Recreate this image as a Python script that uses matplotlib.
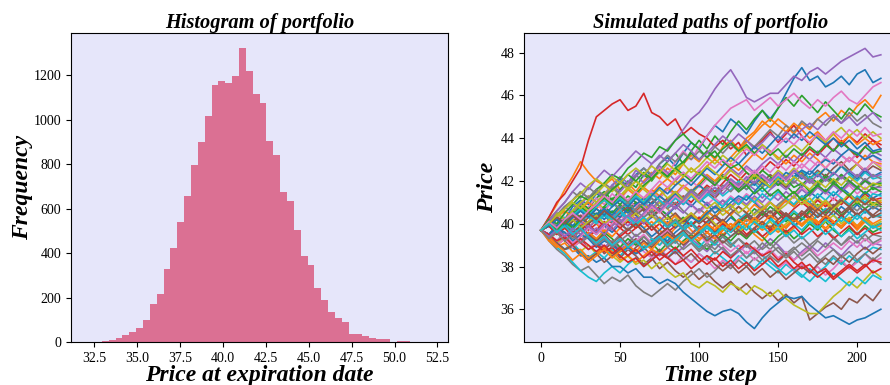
import numpy as np
import matplotlib
matplotlib.use('Agg')
import matplotlib.pyplot as plt

plt.rcParams['font.family'] = ['Liberation Serif', 'DejaVu Serif']

# histogram of the final prices (50 bins)
price_bins = np.linspace(32.14, 52.12, 51)
price_counts = [1, 2, 4, 9, 20, 33, 46, 64, 99, 169,
                217, 328, 421, 538, 655, 794, 899, 1017, 1157, 1174,
                1167, 1197, 1321, 1218, 1115, 1076, 906, 843, 676, 635,
                502, 385, 345, 244, 190, 133, 106, 91, 37, 37,
                25, 18, 13, 13, 2, 6, 5, 1, 0, 1]

# simulated paths, one value every 5 time steps
time_steps = np.arange(0, 220, 5)
paths = [
    [39.7, 40.1, 40.4, 40.2, 40.8, 41.1, 40.9, 41.4, 41.2, 41.8, 42.1, 41.7, 42.3, 42.6, 42.2, 42.8, 43.1, 42.7, 43.3, 43.8, 43.5, 44.1, 44.6, 44.3, 44.9, 44.6, 44.2, 44.8, 45.3, 44.9, 45.4, 46.1, 46.8, 47.3, 46.7, 46.9, 46.4, 46.6, 46.9, 46.5, 47.0, 47.2, 46.6, 46.8],
    [39.7, 40.3, 40.9, 41.6, 42.2, 42.9, 42.4, 42.0, 41.8, 42.1, 41.6, 41.9, 41.5, 42.0, 42.4, 42.1, 42.6, 42.3, 42.8, 43.2, 42.9, 43.4, 43.0, 43.6, 43.9, 43.5, 44.0, 44.3, 44.8, 44.5, 44.9, 44.6, 44.2, 44.7, 44.4, 44.9, 45.2, 44.8, 45.3, 45.0, 45.5, 45.8, 45.4, 46.0],
    [39.7, 39.9, 40.4, 40.1, 40.6, 41.0, 40.7, 41.2, 41.5, 41.1, 41.6, 42.0, 41.7, 42.3, 42.0, 42.5, 42.9, 43.3, 42.8, 43.4, 43.9, 43.5, 44.1, 43.7, 44.3, 44.8, 44.4, 44.9, 45.3, 44.8, 45.4, 45.9, 45.5, 46.0, 45.6, 45.2, 45.7, 45.3, 44.9, 45.4, 45.1, 45.6, 45.2, 45.0],
    [39.7, 40.3, 41.0, 41.4, 42.0, 42.6, 43.9, 45.0, 45.3, 45.6, 45.8, 45.3, 45.5, 46.1, 45.2, 45.0, 44.6, 44.9, 44.2, 44.5, 44.2, 44.0, 43.6, 43.9, 43.5, 43.8, 43.2, 43.6, 43.9, 44.3, 43.8, 44.2, 44.6, 44.1, 43.7, 44.2, 43.8, 43.4, 43.9, 43.5, 43.1, 43.6, 43.9, 43.5],
    [39.7, 40.2, 39.9, 40.5, 40.9, 40.6, 41.1, 41.5, 41.2, 41.8, 42.2, 41.9, 42.5, 42.2, 42.8, 43.1, 43.5, 43.9, 44.4, 44.9, 45.2, 45.7, 46.3, 46.8, 47.2, 46.6, 45.9, 45.7, 45.9, 46.1, 46.1, 46.5, 46.9, 46.7, 47.1, 47.3, 47.0, 47.3, 47.6, 47.8, 48.0, 48.2, 47.8, 47.9],
    [39.7, 39.4, 39.7, 39.2, 38.9, 39.3, 38.8, 39.1, 38.6, 38.9, 38.4, 38.8, 38.5, 38.1, 38.4, 37.9, 38.2, 37.8, 37.5, 37.8, 37.4, 37.7, 37.3, 37.0, 37.3, 36.9, 37.2, 36.8, 36.5, 36.8, 36.4, 36.7, 36.3, 36.6, 35.5, 35.8, 36.1, 36.3, 36.0, 36.5, 36.3, 36.7, 36.4, 36.9],
    [39.7, 40.0, 40.4, 40.1, 40.6, 40.3, 40.8, 41.2, 40.9, 41.4, 41.1, 41.6, 42.0, 41.7, 42.2, 42.6, 42.3, 42.9, 43.4, 43.0, 43.6, 44.1, 44.6, 45.0, 45.4, 45.6, 45.8, 45.3, 45.6, 45.9, 45.5, 45.8, 46.1, 45.7, 45.4, 45.8, 45.5, 45.9, 46.2, 45.8, 45.6, 46.0, 46.4, 46.6],
    [39.7, 39.2, 38.8, 38.5, 38.1, 37.8, 38.0, 37.6, 37.2, 37.5, 37.3, 37.6, 37.1, 36.8, 36.6, 36.9, 37.2, 36.9, 37.3, 37.6, 37.9, 37.5, 37.8, 38.2, 37.9, 38.3, 38.0, 38.4, 38.1, 38.5, 38.2, 38.6, 38.9, 38.5, 38.8, 38.4, 38.1, 38.5, 38.2, 37.9, 38.3, 38.0, 38.4, 38.1],
    [39.7, 39.5, 39.1, 39.4, 39.0, 38.7, 39.0, 38.6, 38.9, 38.5, 38.2, 38.5, 38.1, 38.3, 37.9, 38.2, 37.8, 37.5, 37.7, 37.2, 37.0, 37.3, 37.1, 36.8, 37.2, 37.0, 36.7, 37.1, 36.9, 36.6, 36.9, 36.5, 36.2, 36.0, 35.8, 35.8, 36.2, 36.6, 36.9, 37.3, 37.0, 37.4, 37.8, 37.5],
    [39.7, 39.3, 38.9, 38.6, 38.2, 37.8, 37.5, 37.3, 37.7, 38.0, 37.7, 38.1, 38.4, 38.0, 38.3, 38.7, 38.4, 38.8, 38.5, 38.2, 38.6, 38.3, 38.7, 38.4, 38.1, 38.5, 38.2, 37.9, 38.3, 38.0, 37.7, 38.1, 37.8, 37.5, 37.9, 37.6, 37.3, 37.7, 37.4, 37.1, 37.5, 37.2, 37.6, 37.4],
    [39.7, 39.4, 39.1, 38.8, 38.9, 38.5, 38.5, 38.2, 38.4, 38.0, 38.0, 37.7, 37.9, 37.5, 37.5, 37.2, 37.4, 37.2, 36.8, 36.5, 36.2, 35.9, 35.7, 35.9, 36.0, 35.8, 35.4, 35.1, 35.6, 36.0, 36.3, 36.6, 36.5, 36.6, 36.2, 35.9, 35.6, 35.7, 35.5, 35.3, 35.5, 35.6, 35.8, 36.0],
    [39.7, 39.9, 39.5, 39.8, 40.2, 39.9, 40.3, 40.0, 39.6, 39.9, 40.3, 40.6, 40.2, 39.8, 40.1, 39.7, 39.4, 39.8, 40.1, 39.7, 39.3, 39.6, 39.9, 39.5, 39.8, 40.2, 39.9, 39.5, 39.2, 39.6, 39.9, 39.5, 39.8, 40.2, 40.5, 40.1, 39.7, 40.0, 40.4, 40.1, 39.7, 40.1, 39.8, 40.0],
    [39.7, 40.1, 40.5, 40.2, 40.6, 41.0, 40.7, 40.4, 40.8, 41.2, 40.9, 41.3, 41.0, 40.6, 40.9, 41.3, 41.7, 41.4, 41.0, 41.4, 41.8, 42.2, 41.9, 42.3, 42.0, 41.6, 42.0, 42.4, 42.1, 41.7, 42.1, 41.8, 41.4, 41.8, 42.2, 41.9, 42.3, 42.0, 41.6, 42.0, 41.7, 42.1, 41.6, 41.8],
    [39.7, 39.5, 39.9, 40.2, 39.8, 40.1, 39.7, 40.0, 40.4, 40.1, 40.5, 40.2, 40.6, 40.9, 40.5, 40.8, 41.2, 40.9, 41.3, 41.0, 41.4, 41.8, 41.5, 41.9, 42.3, 42.0, 42.4, 42.1, 42.5, 42.9, 42.6, 43.0, 42.7, 43.1, 43.5, 43.2, 43.6, 44.0, 43.7, 44.1, 43.8, 44.2, 43.9, 43.7],
    [39.7, 39.4, 39.0, 39.3, 38.9, 39.2, 39.6, 39.3, 38.9, 39.2, 38.8, 39.1, 39.5, 39.2, 38.8, 38.5, 38.9, 38.6, 38.9, 39.3, 39.0, 38.7, 39.1, 38.8, 38.4, 38.7, 39.0, 38.6, 38.9, 39.3, 39.0, 38.6, 38.3, 38.7, 39.0, 38.7, 39.1, 38.8, 38.5, 38.9, 39.2, 38.8, 39.1, 39.0],
    [39.7, 40.0, 39.7, 40.1, 40.4, 40.0, 40.3, 40.7, 40.4, 40.0, 40.3, 40.7, 41.0, 40.6, 41.0, 41.3, 41.0, 40.7, 41.1, 41.4, 41.1, 41.5, 41.2, 41.6, 41.9, 41.5, 41.8, 42.2, 41.9, 42.3, 42.0, 41.7, 42.1, 42.4, 42.1, 42.5, 42.2, 42.6, 42.9, 42.5, 42.8, 42.4, 42.7, 42.5],
    [39.7, 39.9, 39.6, 39.2, 39.5, 39.1, 39.4, 39.0, 39.3, 38.9, 39.2, 38.8, 39.1, 38.7, 38.4, 38.8, 38.5, 38.1, 38.5, 38.2, 38.6, 38.3, 37.9, 38.3, 38.0, 38.4, 38.7, 38.3, 38.6, 38.2, 37.9, 38.2, 37.8, 38.1, 37.7, 38.0, 37.6, 37.9, 38.3, 37.9, 38.2, 38.6, 38.2, 38.4],
    [39.7, 40.2, 40.6, 41.0, 41.5, 41.2, 41.7, 41.4, 41.9, 41.6, 42.0, 41.7, 42.2, 42.6, 42.3, 42.8, 43.2, 42.9, 43.3, 43.0, 43.4, 43.1, 43.6, 43.3, 43.7, 43.4, 43.9, 43.6, 44.0, 44.4, 44.1, 44.6, 44.3, 44.8, 44.5, 44.9, 44.6, 45.0, 44.7, 45.2, 44.8, 45.1, 44.7, 44.5],
    [39.7, 40.1, 39.8, 40.2, 40.5, 40.9, 40.6, 41.0, 40.7, 40.3, 40.6, 40.2, 40.5, 40.9, 40.6, 41.0, 40.7, 40.3, 40.0, 40.4, 40.1, 40.5, 40.8, 40.4, 40.7, 41.1, 40.8, 41.2, 40.9, 40.5, 40.8, 41.2, 41.5, 41.1, 40.8, 41.2, 40.9, 40.6, 41.0, 41.3, 40.9, 41.2, 40.8, 41.0],
    [39.7, 39.5, 39.9, 40.3, 39.9, 40.2, 40.6, 40.3, 40.7, 41.0, 40.6, 40.9, 40.5, 40.8, 41.2, 40.8, 41.1, 41.5, 41.1, 41.4, 41.0, 41.3, 41.7, 41.3, 41.6, 42.0, 41.6, 41.9, 41.5, 41.8, 42.2, 41.8, 42.1, 42.5, 42.1, 42.4, 42.0, 42.3, 42.7, 42.3, 42.0, 42.4, 42.1, 42.2],
    [39.7, 39.4, 39.8, 39.5, 39.1, 39.4, 39.8, 39.5, 39.9, 39.6, 40.0, 39.7, 40.1, 39.8, 39.4, 39.7, 40.1, 39.8, 40.2, 39.9, 40.3, 40.0, 39.6, 39.9, 40.3, 40.0, 40.4, 40.1, 40.5, 40.2, 40.6, 40.3, 39.9, 40.2, 40.6, 40.3, 40.7, 40.4, 40.8, 40.5, 40.9, 40.5, 40.8, 40.6],
    [39.7, 40.0, 40.4, 40.1, 40.5, 40.2, 39.8, 40.2, 40.6, 40.3, 40.7, 41.1, 40.8, 41.2, 41.6, 41.3, 41.7, 41.4, 41.8, 41.5, 41.9, 42.3, 42.0, 42.4, 42.8, 42.5, 42.9, 43.3, 43.0, 43.4, 43.1, 42.8, 43.2, 42.9, 43.3, 43.0, 42.6, 43.0, 42.7, 43.1, 42.8, 43.2, 42.9, 42.8],
    [39.7, 39.3, 39.6, 39.2, 39.5, 39.9, 39.5, 39.2, 39.6, 39.3, 38.9, 39.3, 39.0, 39.4, 39.1, 38.7, 39.1, 38.8, 39.2, 39.5, 39.1, 38.8, 39.2, 39.5, 39.2, 39.6, 39.3, 39.7, 39.4, 39.0, 39.4, 39.7, 39.3, 39.6, 40.0, 39.7, 40.1, 39.7, 39.4, 39.8, 39.5, 39.9, 39.6, 39.8],
    [39.7, 39.9, 39.5, 39.8, 39.4, 39.7, 40.0, 39.6, 39.9, 40.2, 39.8, 39.5, 39.8, 40.2, 39.9, 39.5, 39.8, 40.1, 39.7, 40.0, 39.6, 39.9, 40.3, 40.0, 39.7, 40.1, 40.4, 40.1, 40.5, 40.2, 40.6, 40.3, 40.7, 41.0, 40.7, 41.1, 40.8, 41.2, 40.9, 41.3, 41.0, 41.4, 41.1, 41.2],
    [39.7, 40.1, 40.4, 40.8, 40.5, 40.9, 41.3, 41.0, 41.4, 41.8, 41.5, 41.9, 42.3, 41.9, 42.3, 42.7, 42.4, 42.0, 42.4, 42.1, 42.5, 42.2, 41.8, 42.2, 42.6, 42.3, 42.7, 42.4, 42.8, 43.1, 42.8, 43.2, 42.9, 43.3, 43.0, 43.4, 43.1, 43.5, 43.2, 42.9, 43.3, 43.0, 43.4, 43.2],
    [39.7, 39.4, 39.7, 40.0, 39.6, 39.9, 39.5, 39.2, 39.5, 39.1, 39.4, 39.0, 39.3, 38.9, 39.2, 39.5, 39.1, 39.4, 39.0, 39.3, 39.6, 39.3, 39.7, 39.4, 39.8, 39.5, 39.9, 39.6, 40.0, 39.7, 40.1, 39.8, 40.2, 39.9, 40.3, 40.0, 40.4, 40.1, 39.8, 40.2, 40.5, 40.1, 40.4, 40.3],
    [39.7, 40.0, 39.6, 39.9, 40.3, 40.0, 40.4, 40.1, 39.7, 40.0, 40.4, 40.1, 40.5, 40.8, 40.4, 40.7, 41.1, 40.8, 41.2, 40.9, 40.5, 40.9, 41.2, 40.9, 41.3, 41.0, 41.4, 41.1, 40.7, 41.1, 41.4, 41.0, 41.3, 41.7, 41.4, 41.8, 41.5, 41.1, 41.5, 41.8, 41.4, 41.7, 41.4, 41.6],
    [39.7, 39.5, 39.2, 39.6, 39.3, 39.7, 39.4, 39.0, 39.4, 39.1, 39.5, 39.8, 39.4, 39.7, 39.3, 39.0, 39.4, 39.1, 39.5, 39.2, 38.8, 39.1, 38.8, 39.2, 38.9, 39.3, 39.0, 38.7, 39.1, 38.8, 39.2, 39.5, 39.1, 39.4, 39.0, 39.3, 39.7, 39.4, 39.0, 39.3, 39.6, 39.2, 39.5, 39.4],
    [39.7, 40.0, 40.3, 40.0, 40.4, 40.8, 40.5, 40.9, 41.2, 40.9, 41.3, 41.7, 41.4, 41.1, 41.5, 41.2, 41.6, 42.0, 41.7, 41.4, 41.8, 41.5, 41.9, 42.2, 41.9, 41.5, 41.9, 42.2, 41.8, 42.1, 42.5, 42.2, 42.6, 42.3, 41.9, 42.3, 42.6, 42.3, 42.7, 42.4, 42.8, 42.5, 42.9, 42.6],
    [39.7, 39.4, 39.1, 38.8, 39.1, 38.7, 38.4, 38.7, 38.4, 38.8, 38.5, 38.9, 39.2, 38.9, 39.3, 39.0, 39.4, 39.1, 39.5, 39.2, 38.9, 39.3, 39.0, 39.4, 39.1, 38.8, 38.4, 38.8, 38.5, 38.2, 37.9, 37.6, 37.9, 37.6, 37.3, 37.7, 38.0, 38.4, 38.1, 38.5, 38.2, 38.6, 38.9, 38.8],
    [39.7, 40.0, 40.3, 39.9, 40.2, 39.8, 40.1, 40.5, 40.2, 40.6, 40.3, 40.7, 40.4, 40.0, 40.3, 40.7, 40.4, 40.8, 41.1, 40.8, 41.2, 40.9, 40.5, 40.8, 41.2, 40.9, 41.3, 41.0, 40.6, 41.0, 40.7, 41.1, 40.8, 41.2, 41.5, 41.2, 41.6, 41.3, 41.7, 41.4, 41.1, 41.5, 41.2, 41.4],
    [39.7, 39.9, 40.3, 40.6, 40.3, 40.7, 41.0, 40.7, 41.1, 40.8, 41.2, 41.6, 41.3, 41.7, 41.4, 41.8, 42.1, 41.8, 42.2, 42.6, 42.3, 42.7, 43.0, 42.7, 43.1, 43.5, 43.8, 44.2, 44.6, 44.9, 44.6, 44.3, 44.7, 44.4, 44.0, 44.3, 43.9, 44.2, 43.8, 44.1, 43.7, 44.0, 43.7, 43.9],
    [39.7, 40.1, 39.8, 40.2, 40.6, 40.3, 40.0, 40.4, 40.8, 40.5, 40.9, 40.6, 41.0, 40.7, 40.3, 40.7, 40.4, 40.0, 40.3, 39.9, 40.2, 40.6, 40.3, 40.7, 40.4, 40.0, 40.3, 40.7, 40.4, 40.8, 40.5, 40.1, 40.5, 40.2, 40.6, 40.9, 40.5, 40.8, 40.4, 40.7, 41.0, 40.7, 41.0, 40.8],
    [39.7, 39.3, 39.6, 39.9, 39.5, 39.8, 39.4, 39.7, 40.1, 39.8, 39.4, 39.7, 40.0, 39.6, 39.9, 39.5, 39.8, 40.1, 39.8, 39.5, 39.9, 39.6, 39.3, 39.7, 40.0, 39.7, 39.4, 39.8, 40.1, 39.7, 40.0, 40.4, 40.1, 40.5, 40.2, 39.9, 40.3, 40.0, 40.4, 40.1, 39.8, 40.2, 39.9, 40.0],
    [39.7, 39.5, 39.8, 39.4, 39.7, 40.1, 39.8, 40.2, 39.9, 40.3, 40.6, 40.3, 40.7, 41.0, 40.7, 41.1, 40.8, 41.2, 40.9, 41.3, 41.0, 41.4, 41.7, 41.4, 41.8, 41.5, 41.9, 41.6, 41.2, 41.6, 41.9, 41.6, 42.0, 41.7, 42.1, 41.8, 42.2, 41.9, 42.3, 42.0, 41.7, 42.1, 41.8, 42.0],
    [39.7, 39.9, 39.6, 39.3, 39.6, 39.2, 39.5, 39.1, 38.8, 39.1, 38.7, 39.0, 38.6, 38.9, 38.5, 38.8, 38.4, 38.7, 38.3, 38.6, 38.2, 38.5, 38.1, 37.8, 38.1, 37.7, 38.0, 37.6, 37.9, 37.5, 37.8, 37.4, 37.7, 38.0, 37.7, 38.1, 38.4, 38.1, 38.5, 38.2, 38.6, 38.9, 38.6, 38.9],
    [39.7, 40.0, 40.4, 40.1, 40.5, 40.2, 40.6, 40.9, 40.6, 41.0, 40.7, 41.1, 40.8, 41.2, 41.5, 41.2, 41.6, 41.3, 41.7, 42.0, 41.7, 42.1, 41.8, 42.2, 42.5, 42.2, 42.6, 42.3, 42.7, 42.4, 42.8, 42.5, 42.9, 42.6, 43.0, 42.7, 43.1, 42.8, 43.2, 42.9, 43.3, 43.0, 43.2, 42.9],
    [39.7, 39.4, 39.8, 40.1, 39.8, 40.2, 40.5, 40.2, 40.6, 40.3, 40.0, 40.4, 40.7, 41.0, 41.4, 41.1, 40.7, 41.0, 40.6, 40.3, 40.7, 40.4, 40.8, 41.1, 40.7, 40.4, 40.1, 40.5, 40.8, 40.5, 40.9, 41.2, 40.9, 41.3, 41.0, 40.7, 41.1, 40.8, 41.2, 40.9, 40.6, 41.0, 40.7, 40.9],
    [39.7, 40.1, 40.5, 40.2, 40.6, 41.0, 41.3, 41.0, 41.4, 41.7, 41.3, 41.6, 42.0, 41.7, 42.1, 42.4, 42.1, 42.5, 42.8, 42.4, 42.7, 43.1, 42.8, 43.2, 42.9, 43.3, 43.6, 43.3, 43.7, 43.4, 43.0, 43.4, 43.7, 43.4, 43.8, 44.1, 43.8, 44.2, 44.5, 44.1, 44.4, 44.0, 44.3, 44.0],
    [39.7, 39.9, 40.2, 39.9, 40.3, 40.6, 40.3, 40.0, 40.4, 40.1, 40.5, 40.2, 39.9, 40.3, 40.6, 40.2, 39.9, 40.2, 39.8, 40.1, 39.7, 40.0, 40.4, 40.1, 39.8, 40.2, 40.5, 40.2, 40.6, 40.3, 39.9, 40.2, 40.6, 40.3, 40.0, 40.4, 40.7, 40.4, 40.1, 40.5, 40.2, 40.6, 40.3, 40.4],
    [39.7, 39.5, 39.9, 40.2, 39.9, 40.3, 40.0, 40.4, 40.7, 40.4, 40.8, 40.5, 40.9, 41.2, 40.9, 41.3, 41.0, 41.4, 41.1, 41.5, 41.8, 41.5, 41.9, 41.6, 42.0, 41.7, 42.1, 41.8, 42.2, 41.9, 42.3, 42.0, 42.4, 42.1, 42.5, 42.2, 42.6, 42.3, 42.7, 42.4, 42.1, 42.5, 42.2, 42.4],
    [39.7, 39.3, 39.0, 39.3, 38.9, 39.2, 39.6, 39.3, 39.7, 39.4, 39.8, 40.1, 39.8, 40.2, 39.9, 40.3, 40.0, 40.4, 40.1, 40.5, 40.2, 40.6, 40.3, 40.7, 40.4, 40.8, 40.5, 40.9, 40.6, 41.0, 40.7, 41.1, 40.8, 41.2, 40.9, 40.6, 41.0, 40.7, 41.1, 40.8, 41.2, 40.9, 41.2, 41.0],
    [39.7, 40.0, 39.7, 40.1, 40.4, 40.8, 40.5, 40.9, 41.2, 40.9, 41.3, 41.0, 41.4, 41.8, 42.1, 42.5, 42.2, 42.6, 42.9, 43.3, 43.0, 43.4, 43.1, 43.5, 43.8, 43.4, 43.7, 43.3, 43.6, 43.2, 43.5, 43.1, 43.5, 43.2, 43.6, 43.3, 43.7, 43.4, 43.8, 43.5, 43.2, 43.6, 43.3, 43.4],
    [39.7, 40.0, 40.3, 40.0, 40.4, 40.1, 40.5, 40.2, 39.9, 40.2, 39.8, 40.1, 39.8, 40.1, 39.7, 40.0, 39.6, 39.9, 40.2, 39.9, 40.3, 40.0, 39.7, 40.0, 39.6, 39.9, 39.5, 39.8, 39.4, 39.7, 40.0, 39.6, 39.9, 39.5, 39.8, 39.4, 39.7, 39.3, 39.6, 39.9, 39.5, 39.8, 39.5, 39.6],
    [39.7, 39.4, 39.7, 39.3, 39.6, 39.2, 39.5, 39.8, 39.5, 39.9, 40.2, 39.9, 40.3, 40.0, 40.4, 40.1, 40.5, 40.8, 40.5, 40.9, 40.6, 41.0, 40.7, 41.1, 40.8, 41.2, 40.9, 41.3, 41.0, 41.4, 41.1, 41.5, 41.2, 41.6, 41.3, 41.7, 41.4, 41.8, 41.5, 41.9, 41.6, 42.0, 41.7, 41.7],
    [39.7, 39.9, 40.2, 39.8, 40.1, 40.4, 40.0, 40.3, 40.6, 40.2, 40.5, 40.8, 40.4, 40.7, 40.3, 40.6, 40.2, 40.5, 40.1, 40.4, 40.0, 40.3, 39.9, 40.2, 39.8, 40.1, 40.4, 40.0, 40.3, 40.6, 40.2, 40.5, 40.1, 40.4, 40.7, 40.3, 40.6, 40.9, 40.5, 40.8, 40.4, 40.7, 40.4, 40.7],
    [39.7, 39.4, 39.0, 39.3, 38.9, 39.2, 38.8, 39.1, 39.4, 39.0, 39.3, 38.9, 39.2, 39.5, 39.1, 39.4, 39.7, 39.3, 39.6, 39.2, 39.5, 39.1, 39.4, 39.0, 38.7, 39.0, 38.6, 38.9, 38.5, 38.8, 38.4, 38.7, 38.3, 38.6, 38.9, 38.5, 38.8, 39.1, 38.8, 39.2, 38.9, 39.3, 39.0, 39.2],
    [39.7, 40.1, 40.4, 40.8, 41.1, 41.5, 41.2, 41.6, 41.3, 41.7, 41.4, 41.0, 41.3, 40.9, 41.2, 40.8, 41.1, 41.5, 41.2, 41.6, 41.3, 41.7, 41.4, 41.8, 41.5, 41.9, 41.6, 42.0, 41.7, 42.1, 41.8, 42.2, 41.9, 42.3, 42.0, 41.7, 42.1, 41.8, 42.2, 41.9, 42.3, 42.0, 42.3, 42.1],
    [39.7, 40.0, 39.6, 39.9, 40.2, 39.8, 40.1, 40.4, 40.0, 40.3, 39.9, 40.2, 40.5, 40.1, 40.4, 40.0, 40.3, 39.9, 40.2, 40.5, 40.1, 40.4, 40.0, 39.7, 40.0, 39.6, 39.9, 40.2, 39.8, 40.1, 39.7, 40.0, 40.3, 39.9, 40.2, 39.8, 40.1, 40.4, 40.0, 40.3, 39.9, 40.2, 39.9, 40.1],
    [39.7, 39.9, 40.3, 40.0, 40.4, 40.7, 40.4, 40.8, 41.1, 40.8, 41.2, 40.9, 41.3, 41.0, 41.4, 41.1, 40.8, 41.2, 40.9, 41.3, 41.0, 41.4, 41.1, 40.8, 41.2, 40.9, 41.3, 41.0, 41.4, 41.1, 41.5, 41.2, 40.9, 41.3, 41.0, 41.4, 41.1, 41.5, 41.2, 40.9, 41.3, 41.0, 41.4, 41.3],
    [39.7, 39.5, 39.8, 39.6, 39.2, 39.5, 39.3, 38.9, 39.2, 39.0, 38.7, 38.9, 38.6, 38.8, 39.1, 39.4, 39.2, 39.6, 39.9, 40.3, 40.1, 40.5, 40.8, 40.6, 41.0, 41.3, 41.1, 41.5, 41.9, 41.7, 42.0, 42.4, 42.2, 42.5, 42.3, 42.7, 43.0, 42.8, 43.2, 43.5, 43.3, 43.0, 43.2, 43.0],
    [39.7, 39.2, 38.9, 39.1, 38.7, 38.8, 38.4, 38.6, 38.9, 38.7, 38.3, 38.5, 38.2, 38.5, 38.8, 38.6, 38.9, 39.3, 39.1, 39.4, 39.2, 39.6, 39.3, 39.7, 40.0, 39.8, 40.2, 40.0, 39.7, 39.9, 39.6, 39.9, 40.2, 40.0, 40.3, 40.1, 39.8, 40.1, 39.9, 40.2, 39.8, 40.1, 39.8, 39.9],
    [39.7, 40.2, 40.0, 40.5, 40.9, 41.3, 41.1, 41.6, 41.9, 42.3, 42.1, 42.6, 42.9, 43.3, 43.1, 43.6, 43.4, 43.9, 44.2, 43.8, 43.5, 43.1, 43.4, 42.9, 42.6, 42.8, 42.4, 42.1, 42.5, 42.2, 41.8, 42.1, 41.7, 41.9, 41.5, 41.8, 42.2, 41.9, 42.3, 42.0, 41.7, 42.0, 41.8, 41.9],
    [39.7, 39.9, 39.6, 39.3, 39.5, 39.1, 38.8, 39.0, 38.7, 38.9, 38.5, 38.2, 38.4, 38.0, 38.3, 38.6, 38.4, 38.1, 38.3, 37.9, 38.2, 38.5, 38.3, 38.7, 38.4, 38.8, 39.1, 38.8, 38.5, 38.7, 38.3, 38.6, 38.2, 37.9, 38.1, 37.7, 37.9, 37.5, 37.8, 38.1, 37.8, 38.1, 37.7, 37.9],
    [39.7, 40.1, 40.6, 41.0, 41.5, 41.9, 41.6, 42.1, 42.5, 42.2, 42.6, 43.0, 43.4, 43.1, 42.8, 43.2, 42.9, 43.3, 43.7, 43.4, 43.0, 43.3, 43.7, 44.1, 43.8, 44.2, 43.9, 43.5, 43.8, 44.2, 43.9, 44.3, 44.0, 44.4, 44.7, 44.4, 44.8, 45.1, 44.7, 45.0, 44.6, 44.9, 45.2, 44.8],
    [39.7, 39.4, 39.1, 38.8, 39.0, 38.6, 38.3, 38.6, 38.2, 38.5, 38.8, 38.5, 38.9, 39.2, 38.9, 39.3, 39.6, 39.3, 39.7, 40.0, 39.7, 40.1, 40.4, 40.1, 40.5, 40.8, 40.5, 40.2, 40.6, 40.3, 40.7, 40.4, 40.1, 40.4, 40.8, 40.5, 40.2, 40.6, 40.3, 40.7, 40.4, 40.7, 40.3, 40.5],
    [39.7, 39.5, 39.2, 39.5, 39.1, 39.4, 39.8, 39.5, 39.9, 40.2, 39.9, 40.3, 40.0, 40.4, 40.8, 40.5, 40.9, 41.3, 41.0, 41.4, 41.1, 41.5, 41.9, 41.6, 42.0, 41.7, 42.1, 42.5, 42.2, 41.9, 42.3, 42.0, 42.4, 42.8, 42.5, 42.9, 42.6, 43.0, 42.7, 43.1, 42.8, 42.5, 42.9, 42.7],
    [39.7, 40.0, 40.4, 40.8, 41.1, 41.5, 41.2, 41.6, 41.3, 41.0, 40.7, 41.0, 40.6, 40.3, 40.6, 40.2, 39.9, 40.2, 39.8, 39.5, 39.8, 39.4, 39.1, 39.4, 39.0, 39.3, 38.9, 39.2, 38.8, 39.1, 38.7, 38.4, 38.7, 38.3, 38.6, 38.2, 38.5, 38.8, 38.4, 38.7, 38.3, 38.6, 38.3, 38.6],
    [39.7, 40.0, 40.3, 40.7, 41.0, 40.7, 41.1, 41.4, 41.8, 41.5, 41.9, 41.6, 42.0, 41.6, 41.3, 41.6, 41.2, 41.5, 41.1, 41.4, 41.0, 40.7, 41.0, 40.6, 40.9, 40.5, 40.8, 40.4, 40.7, 41.0, 40.6, 40.9, 41.3, 40.9, 41.2, 40.8, 41.1, 40.7, 41.0, 41.4, 41.0, 41.3, 40.9, 41.1],
    [39.7, 39.4, 39.7, 40.0, 39.7, 40.1, 40.4, 40.1, 40.5, 40.2, 40.6, 40.3, 40.0, 40.3, 39.9, 40.2, 39.8, 40.1, 39.7, 40.0, 39.6, 39.9, 39.5, 39.8, 39.4, 39.7, 40.0, 39.6, 39.9, 39.5, 39.8, 39.4, 39.7, 39.3, 39.6, 39.9, 39.5, 39.8, 39.4, 39.7, 39.3, 39.6, 39.9, 39.7],
    [39.7, 39.9, 40.2, 39.9, 40.3, 40.6, 40.3, 40.7, 40.4, 40.8, 41.1, 40.8, 41.2, 40.9, 41.3, 41.7, 41.4, 41.8, 42.1, 41.8, 42.2, 42.6, 42.3, 42.7, 43.1, 42.8, 43.2, 43.6, 43.3, 43.7, 44.1, 43.8, 44.2, 43.9, 44.3, 44.0, 43.7, 44.0, 43.6, 43.9, 43.5, 43.8, 43.4, 43.5],
    [39.7, 39.4, 39.0, 38.7, 38.3, 38.6, 38.2, 38.5, 38.8, 38.4, 38.7, 39.0, 38.7, 39.1, 38.8, 39.2, 39.5, 39.2, 39.6, 39.3, 39.7, 40.0, 39.7, 40.1, 39.8, 40.2, 39.9, 40.3, 40.0, 40.4, 40.1, 39.8, 40.2, 39.9, 40.3, 40.0, 40.4, 40.1, 39.8, 40.2, 39.9, 40.3, 40.0, 40.2],
    [39.7, 40.0, 39.7, 40.1, 39.8, 40.2, 40.5, 40.9, 41.2, 41.6, 41.9, 42.3, 42.0, 42.4, 42.1, 42.5, 42.2, 42.6, 42.3, 42.0, 42.4, 42.1, 41.8, 42.2, 41.9, 41.5, 41.8, 41.4, 41.7, 41.3, 41.6, 41.2, 41.5, 41.1, 41.4, 41.8, 41.5, 41.9, 41.6, 41.3, 41.7, 41.4, 41.7, 41.5],
    [39.7, 39.5, 39.2, 39.4, 39.0, 39.3, 39.0, 38.7, 39.0, 38.6, 38.9, 38.5, 38.8, 38.4, 38.7, 38.3, 38.6, 38.9, 38.5, 38.8, 38.4, 38.1, 38.4, 38.0, 38.3, 37.9, 38.2, 37.8, 38.1, 38.4, 38.0, 38.3, 37.9, 38.2, 37.8, 37.5, 37.8, 37.4, 37.7, 38.0, 37.7, 38.0, 38.3, 38.2],
    [39.7, 39.4, 39.7, 39.4, 39.8, 39.5, 39.9, 39.6, 40.0, 39.7, 40.1, 40.4, 40.1, 40.5, 40.9, 40.6, 41.0, 40.7, 41.1, 41.5, 41.2, 41.6, 41.3, 41.7, 42.1, 41.8, 42.2, 41.9, 42.3, 42.0, 42.4, 42.1, 42.5, 42.2, 41.9, 42.3, 42.0, 42.4, 42.1, 42.5, 42.2, 42.6, 42.2, 42.3],
    [39.7, 40.0, 40.3, 40.0, 40.4, 40.1, 40.5, 40.2, 40.6, 40.3, 40.0, 39.7, 40.0, 39.6, 39.9, 39.5, 39.8, 39.4, 39.7, 39.3, 39.6, 39.2, 39.5, 39.1, 39.4, 39.7, 39.4, 39.8, 40.1, 39.8, 40.2, 40.5, 40.2, 40.6, 40.3, 40.7, 40.4, 40.8, 41.1, 40.8, 41.2, 40.9, 41.2, 40.9],
    [39.7, 40.1, 39.8, 40.2, 40.5, 40.2, 40.6, 40.9, 41.3, 41.0, 41.4, 41.1, 41.5, 41.2, 41.6, 42.0, 41.7, 42.1, 42.4, 42.1, 42.5, 42.9, 42.6, 43.0, 42.7, 43.1, 43.5, 43.2, 43.6, 43.3, 43.7, 44.0, 43.7, 44.1, 43.8, 44.2, 43.9, 44.3, 44.0, 44.4, 44.1, 44.5, 44.1, 44.2],
    [39.7, 39.3, 39.6, 39.2, 39.5, 39.1, 39.4, 39.0, 39.3, 38.9, 39.2, 39.5, 39.1, 39.4, 39.0, 39.3, 38.9, 39.2, 38.8, 39.1, 38.7, 39.0, 38.6, 38.9, 38.5, 38.8, 38.4, 38.7, 38.3, 38.6, 38.9, 38.5, 38.8, 39.1, 38.8, 39.2, 38.9, 39.3, 39.0, 39.4, 39.1, 39.5, 39.1, 39.3],
    [39.7, 40.0, 40.4, 40.7, 41.1, 41.4, 41.8, 42.1, 41.8, 42.2, 41.9, 42.3, 42.6, 42.3, 42.7, 42.4, 42.8, 42.5, 42.2, 42.6, 42.3, 42.7, 42.4, 42.1, 42.5, 42.2, 41.9, 42.3, 42.0, 41.7, 42.1, 41.8, 42.2, 41.9, 41.6, 42.0, 41.7, 42.1, 41.8, 42.2, 41.9, 41.6, 41.9, 41.8],
    [39.7, 40.0, 39.6, 39.9, 39.5, 39.8, 39.4, 39.1, 39.4, 39.0, 39.3, 38.9, 39.2, 38.8, 39.1, 39.4, 39.0, 39.3, 39.6, 39.2, 39.5, 39.8, 39.5, 39.9, 39.6, 40.0, 39.7, 40.1, 39.8, 40.2, 39.9, 40.3, 40.0, 39.7, 40.1, 39.8, 40.2, 39.9, 40.3, 40.0, 40.4, 40.1, 39.8, 40.0],
]

title_font = dict(fontsize=14.7, fontweight='bold', fontstyle='italic')
label_font = dict(fontsize=17, fontweight='bold', fontstyle='italic')

fig = plt.figure(figsize=(8.9, 3.85), dpi=100)
ax1 = fig.add_axes([0.0798, 0.1117, 0.4236, 0.8026])
ax2 = fig.add_axes([0.5888, 0.1117, 0.42, 0.8026])

# left: histogram
ax1.set_facecolor('lavender')
ax1.hist(price_bins[:-1], bins=price_bins, weights=price_counts, color='palevioletred')
ax1.set_xlim(31.14, 53.12)
ax1.set_ylim(0, 1390)
ax1.set_xticks(np.arange(32.5, 53, 2.5))
ax1.set_yticks(np.arange(0, 1201, 200))
ax1.set_title('Histogram of portfolio', pad=2.5, **title_font)
ax1.set_xlabel('Price at expiration date', labelpad=0.5, **label_font)
ax1.set_ylabel('Frequency', labelpad=0.5, **label_font)

# right: paths
ax2.set_facecolor('lavender')
for p in paths:
    ax2.plot(time_steps[:len(p)], p, linewidth=1.2)
ax2.set_xlim(-10.75, 225.75)
ax2.set_ylim(34.47, 48.92)
ax2.set_xticks([0, 50, 100, 150, 200])
ax2.set_yticks([36, 38, 40, 42, 44, 46, 48])
ax2.set_title('Simulated paths of portfolio', pad=2.5, **title_font)
ax2.set_xlabel('Time step', labelpad=0.5, **label_font)
ax2.set_ylabel('Price', labelpad=2, **label_font)

for ax in (ax1, ax2):
    ax.tick_params(labelsize=10)

fig.savefig('out.png', dpi=100)
